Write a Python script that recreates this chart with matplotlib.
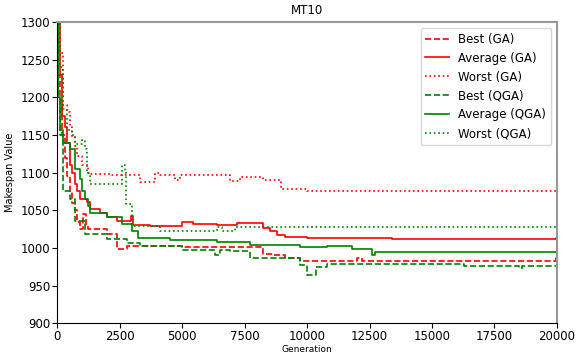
import matplotlib
matplotlib.use('Agg')
import matplotlib.pyplot as plt

# step breakpoints: generation where value starts, makespan value
best_ga_gen = [0, 50, 100, 200, 300, 400, 500, 600, 700, 800, 900, 1050, 1150, 1250, 1400, 2000, 2400,
               2800, 3300, 5000, 6700, 8250, 8650, 9100, 9700, 12000, 12200, 19950, 20000]
best_ga_val = [1300, 1230, 1190, 1150, 1120, 1095, 1075, 1060, 1050, 1035, 1025, 1045, 1030, 1025, 1025,
               1019, 999, 1003, 1003, 1001, 1001, 992, 990, 986, 983, 987, 983, 987, 987]

avg_ga_gen = [0, 100, 200, 300, 400, 500, 600, 700, 800, 920, 1190, 1320, 1720, 2000, 2400, 2950, 3050,
              3700, 5000, 5450, 6400, 7200, 8250, 8500, 8800, 9120, 10000, 13400, 19950, 20000]
avg_ga_val = [1300, 1230, 1175, 1160, 1140, 1110, 1100, 1085, 1075, 1065, 1061, 1052, 1047, 1041, 1036,
              1043, 1031, 1029, 1035, 1032, 1031, 1033, 1027, 1022, 1017, 1014, 1013, 1012, 1013, 1013]

worst_ga_gen = [0, 120, 250, 400, 500, 600, 700, 800, 1000, 1250, 2100, 3300, 3900, 4100, 4700, 4900,
                6900, 7300, 8240, 8960, 10000, 20000]
worst_ga_val = [1300, 1259, 1190, 1180, 1160, 1148, 1135, 1122, 1110, 1098, 1097, 1088, 1099, 1097, 1090,
                1097, 1089, 1094, 1090, 1078, 1076, 1076]

best_qga_gen = [0, 50, 100, 250, 530, 700, 1100, 2000, 2800, 3300, 5000, 6300, 6500, 6900, 7700, 9700,
                10000, 10350, 10800, 16300, 18500, 18600, 20000]
best_qga_val = [1300, 1200, 1150, 1075, 1065, 1036, 1019, 1012, 1006, 1003, 997, 990, 997, 996, 986, 977,
                964, 975, 979, 976, 974, 976, 976]

avg_qga_gen = [0, 50, 100, 250, 500, 700, 900, 1000, 1100, 1250, 1300, 2000, 2600, 3000, 3250, 4500, 6400,
               7700, 9720, 10800, 11800, 12600, 12700, 16300, 20000]
avg_qga_val = [1300, 1200, 1157, 1140, 1131, 1105, 1091, 1075, 1065, 1056, 1047, 1041, 1032, 1023, 1013,
               1010, 1008, 1004, 1001, 1002, 998, 991, 995, 994, 994]

worst_qga_gen = [0, 100, 250, 400, 600, 700, 1000, 1100, 1200, 1300, 2600, 2700, 2750, 3000, 4100, 6400,
                 6600, 7100, 20000]
worst_qga_val = [1300, 1240, 1184, 1157, 1150, 1138, 1144, 1131, 1100, 1085, 1110, 1102, 1058, 1029, 1022,
                 1028, 1022, 1028, 1028]

fig = plt.figure(figsize=(5.76, 3.56), dpi=100)
ax = fig.add_axes([0.099, 0.092, 0.868, 0.846])

ax.plot(best_ga_gen, best_ga_val, 'r--', drawstyle='steps-post', lw=1.2, label='Best (GA)')
ax.plot(avg_ga_gen, avg_ga_val, 'r-', drawstyle='steps-post', lw=1.2, label='Average (GA)')
ax.plot(worst_ga_gen, worst_ga_val, 'r:', drawstyle='steps-post', lw=1.2, label='Worst (GA)')
ax.plot(best_qga_gen, best_qga_val, '--', color='green', drawstyle='steps-post', lw=1.2, label='Best (QGA)')
ax.plot(avg_qga_gen, avg_qga_val, '-', color='green', drawstyle='steps-post', lw=1.2, label='Average (QGA)')
ax.plot(worst_qga_gen, worst_qga_val, ':', color='green', drawstyle='steps-post', lw=1.2, label='Worst (QGA)')

ax.set_xlim(0, 20000)
ax.set_ylim(900, 1300)
ax.set_xticks([0, 2500, 5000, 7500, 10000, 12500, 15000, 17500, 20000])
ax.tick_params(labelsize=8.5, pad=1.5)
ax.set_xlabel('Generation', fontsize=6.5)
ax.xaxis.set_label_coords(0.5, -0.072)
ax.set_ylabel('Makespan Value', fontsize=7)
ax.set_title('MT10', fontsize=8.5)
for s in ['top', 'right']:
    ax.spines[s].set_color('#999999')
    ax.spines[s].set_linewidth(1.5)
ax.legend(loc='upper right', fontsize=8.5)

fig.savefig('out.png')
